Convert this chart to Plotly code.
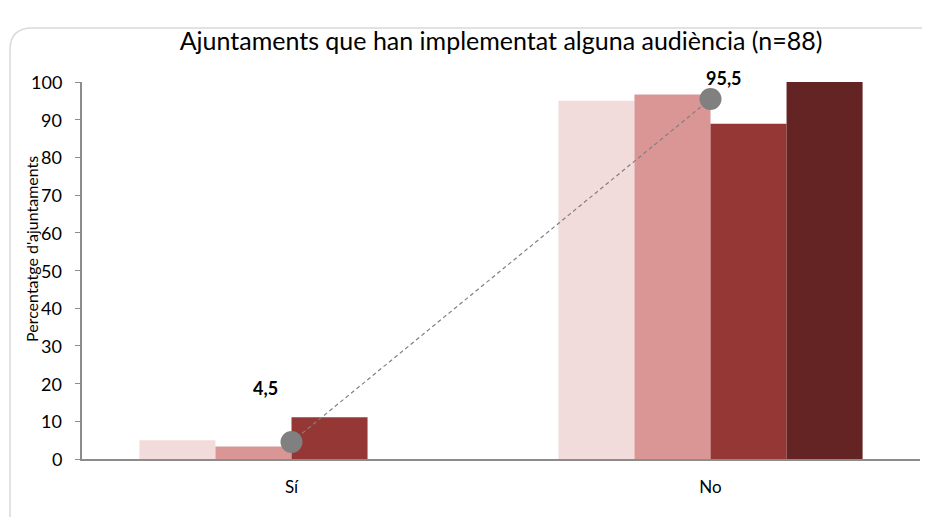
import plotly.graph_objects as go

categories = ["Sí", "No"]
series_names = ["Sèrie 1", "Sèrie 2", "Sèrie 3", "Sèrie 4"]
series_values = [
    [5.0, 95.0],
    [3.3, 96.7],
    [11.1, 88.9],
    [0.0, 100.0],
]
series_colors = ["#f2dcdb", "#da9694", "#953735", "#632423"]
total_values = [4.5, 95.5]
total_labels = ["4,5", "95,5"]
y_ticks = list(range(0, 101, 10))

# page body has an 8px margin, so figure is slightly smaller
OFF = 8
W, H = 930 - OFF, 517 - OFF
L, R, T, B = 82 - OFF, 10, 82 - OFF, 58
pw, ph = W - L - R, H - T - B
FONT = "Lato, Liberation Sans, Arial"

def px(x):
    return (x - OFF - L) / pw

def py(y):
    return (H - B - (y - OFF)) / ph

fig = go.Figure()
for name, vals, col in zip(series_names, series_values, series_colors):
    fig.add_trace(go.Bar(x=categories, y=vals, name=name, marker=dict(color=col, line=dict(width=0))))

fig.add_trace(go.Scatter(
    x=categories, y=total_values, mode="lines+markers", name="Total",
    line=dict(color="#808080", width=1.2, dash="4px,3px"),
    marker=dict(color="#808080", size=22),
))

shifts = [(-26, 54), (13, 21)]
for c, v, t, (xs, ys) in zip(categories, total_values, total_labels, shifts):
    fig.add_annotation(x=c, y=v, text="<b>" + t + "</b>", showarrow=False,
                       xshift=xs, yshift=ys, font=dict(size=18, color="#000000", family=FONT))

# y tick labels (placed further from the axis, as in the original)
for v in y_ticks:
    fig.add_annotation(text=str(v), xref="paper", yref="y", x=px(64), y=v,
                       xanchor="right", yanchor="middle", showarrow=False,
                       font=dict(size=18, color="#000000", family=FONT))

# y axis title
fig.add_annotation(text="Percentatge d'ajuntaments", xref="paper", yref="paper",
                   x=px(31), y=py(249), xanchor="center", yanchor="middle",
                   textangle=-90, showarrow=False, font=dict(size=16, color="#000000", family=FONT))

# rounded frame
x0, x1 = px(10), px(960)
y0, y1 = py(540), py(28)
rx, ry = 22 / pw, 22 / ph
fig.add_shape(type="path", xref="paper", yref="paper",
              path=f"M {x0},{y0} L {x0},{y1 - ry} Q {x0},{y1} {x0 + rx},{y1} L {x1},{y1}",
              line=dict(color="#d9d9d9", width=1.5), layer="below")

fig.update_layout(
    width=W, height=H,
    margin=dict(l=L, r=R, t=T, b=B),
    paper_bgcolor="white", plot_bgcolor="white",
    barmode="group", bargap=0.274, bargroupgap=0,
    showlegend=False,
    font=dict(family=FONT, color="#000000"),
    title=dict(text="Ajuntaments que han implementat alguna audiència (n=88)",
               xref="paper", x=0.5, xanchor="center", y=1 - (41 - OFF) / H, yanchor="middle",
               font=dict(size=25, color="#000000")),
)
fig.update_xaxes(showline=True, linecolor="#8c8c8c", linewidth=2, ticks="",
                 tickfont=dict(size=17), ticklabelstandoff=12, showgrid=False, zeroline=False)
fig.update_yaxes(range=[0, 100], tickvals=y_ticks, showline=True, linecolor="#8c8c8c", linewidth=1.5,
                 ticks="outside", ticklen=5, tickcolor="#8c8c8c", showticklabels=False,
                 showgrid=False, zeroline=False)

fig.write_html("out.html")
